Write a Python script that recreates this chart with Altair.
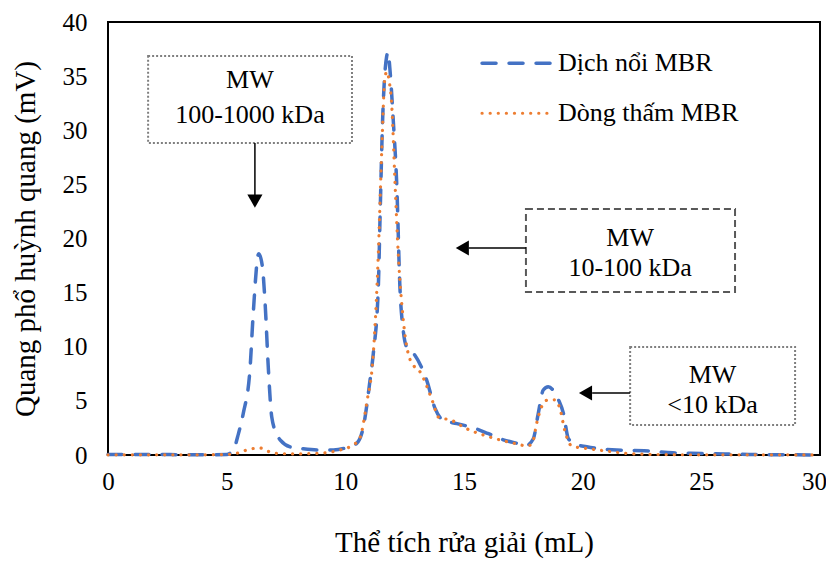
import altair as alt
import pandas as pd

# ---- data ----
blue_x = [0, 1, 2, 3, 4, 5, 5.28, 5.5, 5.7, 5.98, 6.12, 6.35, 6.5, 6.62, 6.76, 6.9, 7.1, 7.25, 7.8,
          8.09, 9.0, 9.5, 10.0, 10.48, 10.76, 11.04, 11.18, 11.39, 11.46, 11.57, 11.74, 11.8, 11.88,
          12.02, 12.17, 12.3, 12.44, 12.58, 12.87, 13.43, 13.78, 14.13, 14.7, 15.4, 16.0, 16.66,
          17.2, 17.64, 17.92, 18.13, 18.34, 18.55, 18.75, 18.98, 19.19, 19.4, 19.7, 20.17, 21.44,
          22.6, 23.8, 25, 26, 27, 28, 29, 30]
blue_y = [0.05, 0.05, 0.05, 0.03, 0.02, 0.05, 0.46, 2.0, 3.85, 7.85, 13.1, 18.6, 17.5, 14.0, 7.85,
          3.5, 2.0, 1.4, 0.67, 0.6, 0.45, 0.46, 0.65, 1.08, 2.6, 6.9, 9.4, 15.5, 21.7, 30.9, 36.8,
          37.2, 35.6, 30.9, 24.8, 15.5, 11.5, 10.0, 9.4, 6.9, 4.3, 3.2, 2.9, 2.5, 2.0, 1.4, 1.1,
          0.9, 1.5, 3.85, 6.0, 6.3, 6.0, 5.1, 3.85, 1.5, 1.0, 0.77, 0.46, 0.4, 0.2, 0.15, 0.1,
          0.05, 0.03, 0.02, 0.0]

orange_x = [0, 1, 2, 3, 4, 5, 5.5, 5.9, 6.4, 6.8, 7.1, 7.8, 8.8, 9.78, 10.3, 10.6, 10.9, 11.18,
            11.39, 11.53, 11.67, 11.75, 11.85, 11.95, 12.1, 12.23, 12.44, 12.73, 13.2, 13.7, 13.92,
            14.48, 15.04, 16.03, 17.08, 17.71, 17.92, 18.06, 18.28, 18.55, 18.84, 19.05, 19.26,
            19.54, 20.17, 20.87, 21.85, 23, 25, 27, 30]
orange_y = [0.02, 0.02, 0.02, 0.02, 0.02, 0.05, 0.2, 0.5, 0.65, 0.3, 0.15, 0.1, 0.15, 0.46, 0.9,
            1.5, 4.8, 9.4, 18.6, 27.9, 34.9, 35.4, 34.5, 32.5, 24.8, 18.6, 12.5, 8.8, 7.5, 4.8, 3.5,
            3.2, 2.5, 1.7, 1.1, 0.83, 1.4, 2.9, 4.5, 5.1, 5.1, 4.2, 2.15, 0.83, 0.6, 0.4, 0.15,
            0.05, 0.02, 0.02, 0.0]

series_names = ["Dịch nổi MBR", "Dòng thấm MBR"]
series_colors = ["#4472C4", "#ED7D31"]

x_ticks = [0, 5, 10, 15, 20, 25, 30]
y_ticks = [0, 5, 10, 15, 20, 25, 30, 35, 40]

# annotation boxes (in data units)
box_line1 = ["MW", "MW", "MW"]
box_line2 = ["100-1000 kDa", "10-100 kDa", "<10 kDa"]
box_x1 = [1.69, 17.61, 22.0]
box_x2 = [10.28, 26.42, 28.95]
box_y1 = [36.86, 22.72, 9.98]
box_y2 = [28.82, 15.06, 2.77]
box_text_x = [5.98, 22.0, 25.47]
box_text_y1 = [34.64, 20.05, 7.39]
box_text_y2 = [31.4, 17.27, 4.62]

# arrows: shaft start / end, head position
arr_x1 = [6.19, 17.61, 22.0]
arr_x2 = [6.19, 15.2, 20.4]
arr_y1 = [28.82, 19.12, 5.73]
arr_y2 = [23.9, 19.12, 5.73]
head_x = [6.19, 14.93, 20.12]
head_y = [23.45, 19.12, 5.73]
head_shape = ["triangle-down", "triangle-left", "triangle-left"]

# legend placement (data units)
leg_x1, leg_x2, leg_tx = 15.76, 18.71, 18.96
leg_y = [36.18, 31.57]

FONT = "Liberation Serif"

blue_df = pd.DataFrame({"x": blue_x, "y": blue_y})
orange_df = pd.DataFrame({"x": orange_x, "y": orange_y})

xs = alt.Scale(domain=[0, 30], nice=False, zero=False)
ys = alt.Scale(domain=[0, 40], nice=False)

xenc = alt.X("x:Q", scale=xs, axis=alt.Axis(values=x_ticks, title="Thể tích rửa giải (mL)",
                                             labelFontSize=25, titleFontSize=29, labelFont=FONT,
                                             titleFont=FONT, labelColor="black", titleColor="black",
                                             titleFontWeight="normal", ticks=False, grid=False,
                                             domain=False, labelPadding=14, titlePadding=34,
                                             labelFlush=False,
                                             labelOffset={"condition": {"test": "datum.value === 30",
                                                                        "value": -6},
                                                          "value": 0}))
yenc = alt.Y("y:Q", scale=ys, axis=alt.Axis(values=y_ticks, title="Quang phổ huỳnh quang (mV)",
                                             labelFontSize=25, titleFontSize=29, labelFont=FONT,
                                             titleFont=FONT, labelColor="black", titleColor="black",
                                             titleFontWeight="normal", ticks=False, grid=False,
                                             domain=False, labelPadding=21, titlePadding=22,
                                             labelFlush=False))

blue_line = alt.Chart(blue_df).mark_line(
    color=series_colors[0], strokeWidth=3.5, strokeDash=[14, 13], interpolate="monotone",
    strokeCap="round"
).encode(x=xenc, y=yenc)

orange_line = alt.Chart(orange_df).mark_line(
    color=series_colors[1], strokeWidth=3.2, strokeDash=[0.1, 8], interpolate="monotone",
    strokeCap="round"
).encode(x="x:Q", y="y:Q")

boxes_df = pd.DataFrame({"x1": box_x1, "x2": box_x2, "y1": box_y1, "y2": box_y2,
                         "tx": box_text_x, "ty1": box_text_y1, "ty2": box_text_y2,
                         "t1": box_line1, "t2": box_line2})

box_dotted = alt.Chart(boxes_df.iloc[[0, 2]]).mark_rect(
    fill="white", stroke="#7F7F7F", strokeWidth=2, strokeDash=[2, 2]
).encode(x="x1:Q", x2="x2", y="y1:Q", y2="y2")
box_dashed = alt.Chart(boxes_df.iloc[[1]]).mark_rect(
    fill="white", stroke="#595959", strokeWidth=2, strokeDash=[7, 4]
).encode(x="x1:Q", x2="x2", y="y1:Q", y2="y2")

txt1 = alt.Chart(boxes_df).mark_text(font=FONT, fontSize=26, color="black", baseline="middle",
                                     align="center").encode(x="tx:Q", y="ty1:Q", text="t1:N")
txt2 = alt.Chart(boxes_df).mark_text(font=FONT, fontSize=26, color="black", baseline="middle",
                                     align="center").encode(x="tx:Q", y="ty2:Q", text="t2:N")

arr_df = pd.DataFrame({"x1": arr_x1, "x2": arr_x2, "y1": arr_y1, "y2": arr_y2,
                       "hx": head_x, "hy": head_y, "shape": head_shape})
shafts = alt.Chart(arr_df).mark_rule(color="black", strokeWidth=1.5).encode(
    x="x1:Q", x2="x2", y="y1:Q", y2="y2")
heads = alt.Chart(arr_df).mark_point(filled=True, color="black", opacity=1, size=230).encode(
    x="hx:Q", y="hy:Q",
    shape=alt.Shape("shape:N", scale=alt.Scale(domain=["triangle-down", "triangle-left"],
                                               range=["triangle-down", "triangle-left"]),
                    legend=None))

leg_df = pd.DataFrame({"name": series_names, "x1": [leg_x1] * 2, "x2": [leg_x2] * 2,
                       "tx": [leg_tx] * 2, "y": leg_y})
leg_blue = alt.Chart(leg_df.iloc[[0]]).mark_rule(
    color=series_colors[0], strokeWidth=3.5, strokeDash=[14, 13], strokeCap="round"
).encode(x="x1:Q", x2="x2", y="y:Q")
leg_orange = alt.Chart(leg_df.iloc[[1]]).mark_rule(
    color=series_colors[1], strokeWidth=3.2, strokeDash=[0.1, 8], strokeCap="round"
).encode(x="x1:Q", x2="x2", y="y:Q")
leg_text = alt.Chart(leg_df).mark_text(font=FONT, fontSize=26, color="black", align="left",
                                       baseline="middle").encode(x="tx:Q", y="y:Q", text="name:N")

chart = alt.layer(
    blue_line, orange_line, box_dotted, box_dashed, txt1, txt2, shafts, heads,
    leg_blue, leg_orange, leg_text
).properties(
    width=712, height=433,
    autosize=alt.AutoSizeParams(type="none"),
    padding={"left": 100, "top": 14, "right": 6, "bottom": 106},
    background="white"
).configure_view(stroke="black", strokeWidth=2
).configure_text(font=FONT)

chart.save("out.html", embed_options={"renderer": "svg", "actions": False})
